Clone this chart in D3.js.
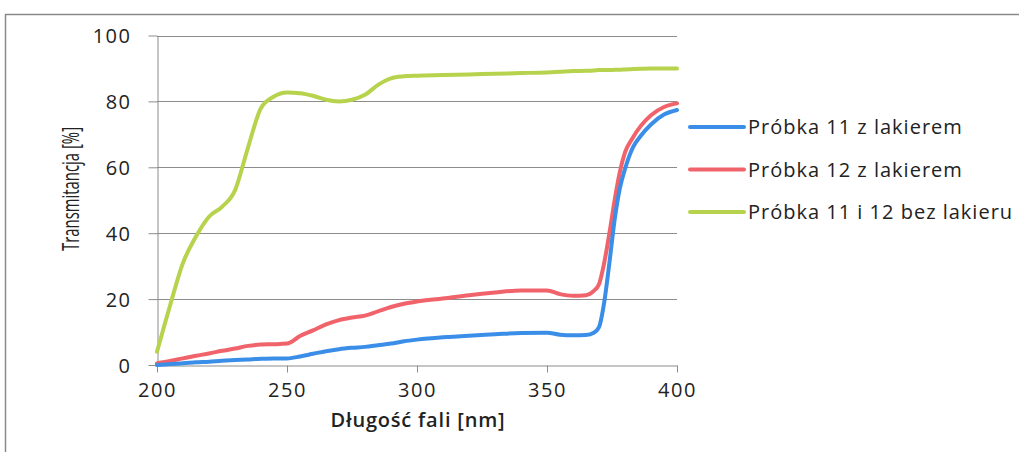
<!DOCTYPE html>
<html>
<head>
<meta charset="utf-8">
<script src="https://cdn.jsdelivr.net/npm/d3@7"></script>
<style>
body { margin: 0; background: #fff; }
svg { display: block; }
.tick text { font-family: "Open Sans", sans-serif; font-size: 20px; letter-spacing: 1.5px; fill: #222; }
.legend text { font-family: "Open Sans", sans-serif; font-size: 20px; letter-spacing: 1px; fill: #222; }
</style>
</head>
<body>
<div id="chart"></div>
<script>
// wavelengths [nm] shared by all series
var wavelengths = [200,205,210,215,220,225,230,235,240,245,250,255,260,265,270,275,280,285,290,295,300,
                   310,320,330,340,350,355,360,365,368,370,372,374,376,378,380,383,386,390,395,400];

var probka11 = [0,0.3,0.5,0.8,1,1.3,1.5,1.7,1.9,2,2,2.6,3.4,4.2,4.8,5.2,5.5,6,6.5,7.2,7.7,
                8.4,8.9,9.3,9.7,9.8,9.2,9,9.1,9.8,11.5,19,31,44,53.5,59.5,66,69.5,73,76,77.4];

var probka12 = [0.5,1.2,2,2.8,3.5,4.3,5,5.8,6.2,6.3,6.5,8.8,10.5,12.3,13.6,14.4,15,16.3,17.6,18.6,19.3,
                20.2,21.2,22,22.6,22.6,21.5,21,21.2,22.5,24.5,31,40,50,58.5,64.5,69,72.5,75.8,78.3,79.4];

var bezLakieru = [4,18,31,39,45,48,53,66,78,81.5,82.7,82.5,81.7,80.5,80,80.5,82,85,87,87.6,87.8,
                  88,88.2,88.4,88.6,88.8,89,89.2,89.3,89.4,89.5,89.5,89.5,89.6,89.6,89.7,89.8,89.9,90,90,90];

var series_names = ["Próbka 11 z lakierem", "Próbka 12 z lakierem", "Próbka 11 i 12 bez lakieru"];
var series_colors = ["#3b8ee8", "#f0636b", "#b7d24c"];
var series_values = [probka11, probka12, bezLakieru];

var x_ticks = [200, 250, 300, 350, 400];
var y_ticks = [0, 20, 40, 60, 80, 100];

var W = 1019, H = 452;
var svg = d3.select("#chart").append("svg")
    .attr("width", W)
    .attr("height", H);

// outer frame (top and left edges visible)
svg.append("path")
    .attr("d", "M5.5," + H + "V14.5H" + W)
    .attr("fill", "none")
    .attr("stroke", "#8a8a8a")
    .attr("stroke-width", 1.5);

var x = d3.scaleLinear().domain([200, 400]).range([157, 677]);
var y = d3.scaleLinear().domain([0, 100]).range([365, 35.5]);

// gridlines
svg.append("g")
    .selectAll("line")
    .data(y_ticks.filter(function(d){ return d > 0; }))
    .enter().append("line")
    .attr("x1", x(200)).attr("x2", x(400))
    .attr("y1", function(d){ return Math.round(y(d)) + 0.5; })
    .attr("y2", function(d){ return Math.round(y(d)) + 0.5; })
    .attr("stroke", "#8c8c8c")
    .attr("stroke-width", 1);

var x_axis = svg.append("g")
    .attr("transform", "translate(0," + (Math.round(y(0)) + 0.5) + ")")
    .call(d3.axisBottom(x).tickValues(x_ticks).tickSize(7).tickPadding(10).tickSizeOuter(0));

var y_axis = svg.append("g")
    .attr("transform", "translate(" + (Math.round(x(200)) + 0.5) + ",0)")
    .call(d3.axisLeft(y).tickValues(y_ticks).tickSize(9).tickPadding(17).tickSizeOuter(0));

[x_axis, y_axis].forEach(function(a){
    a.select(".domain").attr("stroke", "#8c8c8c");
    a.selectAll(".tick line").attr("stroke", "#8c8c8c");
});
y_axis.selectAll(".tick text").attr("dy", "0.35em");

// axis titles
svg.append("text")
    .attr("x", 418).attr("y", 427)
    .attr("text-anchor", "middle")
    .style("font-family", "'Open Sans', sans-serif")
    .style("font-weight", "600")
    .style("font-size", "20px")
    .style("letter-spacing", "0.8px")
    .style("fill", "#222")
    .text("Długość fali [nm]");

// narrow title: squeeze to the width seen in the picture
svg.append("text")
    .attr("transform", "translate(79,189) rotate(-90)")
    .attr("text-anchor", "middle")
    .attr("textLength", 124)
    .attr("lengthAdjust", "spacingAndGlyphs")
    .style("font-family", "'Open Sans', sans-serif")
    .style("font-size", "23px")
    .style("fill", "#222")
    .text("Transmitancja [%]");

// series
var line = d3.line()
    .x(function(d, i){ return x(wavelengths[i]); })
    .y(function(d){ return y(d); })
    .curve(d3.curveMonotoneX);

// green drawn first so the blue and red sit on top
[2, 1, 0].forEach(function(k){
    svg.append("path")
	.datum(series_values[k])
	.attr("d", line)
	.attr("fill", "none")
	.attr("stroke", series_colors[k])
	.attr("stroke-width", 4)
	.attr("stroke-linejoin", "round")
	.attr("stroke-linecap", "round");
});

// legend
var legend = svg.append("g").classed("legend", true);
var legend_rows = legend.selectAll("g")
    .data(series_names)
    .enter().append("g")
    .attr("transform", function(d, i){ return "translate(690," + (127 + i * 42.5) + ")"; });

legend_rows.append("line")
    .attr("x1", 0).attr("x2", 54)
    .attr("stroke", function(d, i){ return series_colors[i]; })
    .attr("stroke-width", 4)
    .attr("stroke-linecap", "round");

legend_rows.append("text")
    .attr("x", 58)
    .attr("dy", "0.35em")
    .text(function(d){ return d; });
</script>
</body>
</html>
